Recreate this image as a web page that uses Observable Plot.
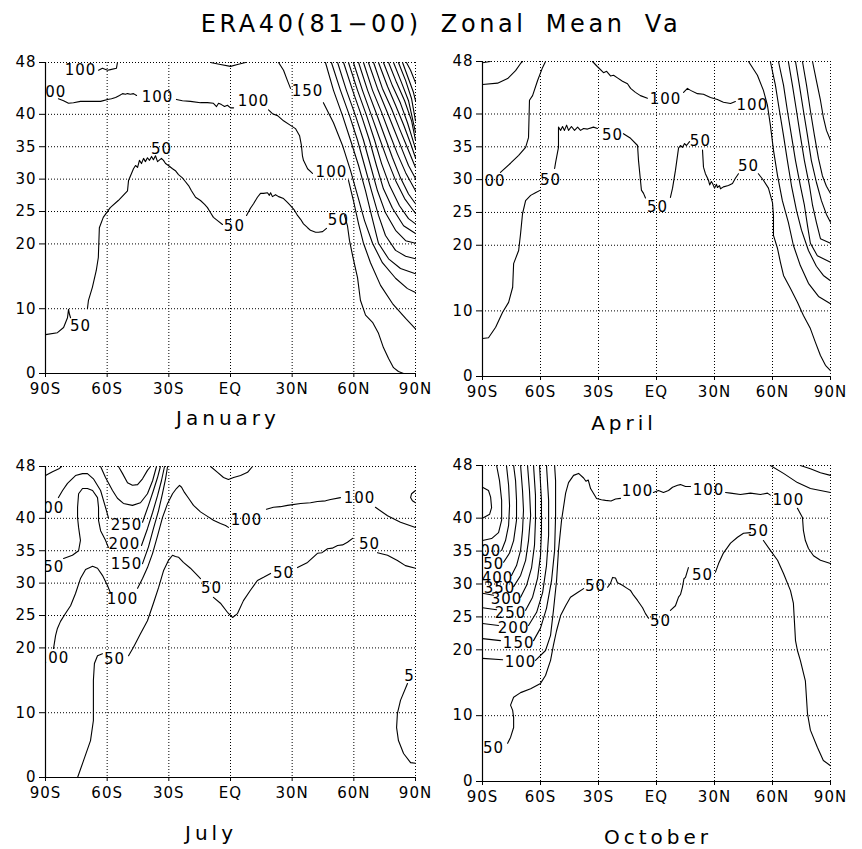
<!DOCTYPE html>
<html><head><meta charset="utf-8">
<script src="https://cdn.jsdelivr.net/npm/d3@7"></script>
<script src="https://cdn.jsdelivr.net/npm/@observablehq/plot@0.6"></script>
<style>
body{margin:0;background:#fff;}
#root{position:relative;width:862px;height:849px;font-family:"DejaVu Sans",sans-serif;color:#000;overflow:hidden;}
.t{position:absolute;white-space:nowrap;transform:translate(-50%,-50%);z-index:5;}
.panel{position:absolute;}
.panel svg{background:transparent;}
</style></head><body><div id="root"></div>
<script>
// ---- axes ----
const latTicks = [-90, -60, -30, 0, 30, 60, 90];
const latNames = ["90S", "60S", "30S", "EQ", "30N", "60N", "90N"];
const levelTicks = [0, 10, 20, 25, 30, 35, 40, 48];
const mainTitle = "ERA40(81\u221200) Zonal Mean Va";
const panelNames = ["January", "April", "July", "October"];

// ---- January contour polylines [lat, level] ----
const janLines = [
[[-90,6],[-84.2,6.3],[-81.2,7.1],[-79.3,8.6],[-78.8,9.9],[-78.3,9.1],[-77.8,8.6]],
[[-69.6,10],[-69.1,11.3],[-67.2,13.3],[-65.3,15.9],[-64.3,17.9],[-63.8,22.5],[-61.9,24.1],[-58.5,25.6],[-54.6,26.7],[-50.1,28.2],[-49.6,29.8],[-47.2,31.6],[-46.2,32.1],[-45.2,31.8],[-44.3,32.9],[-43.3,32.4],[-42.3,33.2],[-41.4,32.7],[-40.4,33.3],[-39.4,32.9],[-38.4,33.5],[-37.5,33],[-36.5,33.6],[-35.5,32.7],[-33.6,33.2],[-32.6,32.9],[-31.6,32.4],[-30.2,32.1],[-28.2,31.6],[-26.8,31.3],[-25.3,30.7],[-23.4,30.2],[-21.9,29.6],[-20.4,29],[-19,28.2],[-17,27.2],[-14.6,26.7],[-12.6,26.1],[-11.2,25.6],[-9.7,24.8],[-8.3,24.1],[-6.3,23.6],[-3.9,23]],
[[7.8,24.4],[9.7,25.5],[11.2,26.2],[13.1,27.2],[14.6,27.8],[16.1,27.8],[18,27.9],[18.9,27.5],[19.5,27.9],[20.4,27.3],[21.9,27.6],[23.4,27.3],[25.8,27],[27.7,26.4],[29.2,25.9],[31.1,25.2],[32.6,24.4],[34.1,23.8],[35.5,23.1],[37.5,22.5],[38.9,22.1],[41.4,21.8],[42.8,21.8],[44.8,21.9],[46.7,22.4]],
[[55.5,24.4],[56.9,22.8],[57.9,20.5],[59.4,18.2],[60.8,16.2],[61.8,14.8],[63.2,11.3],[65.7,9],[69.1,7.9],[72,6.2],[74.4,4],[76.9,2.3],[79.3,0.9],[81.7,0.3],[84.2,0]],
[[-83.7,42.4],[-81.2,42.1],[-78.8,41.7],[-76.4,41.8],[-73,42],[-69.6,42],[-63.2,42],[-59.8,42.3],[-57.9,42.4],[-55.9,42.6],[-54,42.9],[-52.5,43.2],[-51.1,43.1],[-50.1,43.2],[-48.7,43.1],[-47.2,43.2],[-45.7,42.9]],
[[-26.3,42.3],[-23.4,42.1],[-19.5,42],[-14.6,41.8],[-11.2,41.8],[-8.3,41.7],[-6.8,41.2],[-5.8,41.7],[-4.4,41.5],[-2.9,41.2],[-1.5,41.4],[0,41],[1.5,41]],
[[18.5,40.7],[20.4,40.1],[22.9,39.8],[25.8,39],[29.2,38.3],[31.6,37.8],[33.6,36.7],[34.5,35.2],[35,33.6],[35.5,32.9],[37.5,31.6],[39.9,30.9]],
[[57.4,29.8],[59.8,26.7],[62.3,23.1],[64.7,20.1],[68.1,17.1],[73,13.6],[78.8,10.8],[85.2,8.5],[90,6.9]],
[[-64.2,46.8],[-62.3,47.1],[-59.8,46.8],[-58.4,46.9],[-55.5,47.1],[-55,48]],
[[-9.7,48],[-4.9,47.7],[0,47.4],[3.4,47.7],[7.3,48]],
[[23.4,48],[25.8,46.8],[27.7,45.2],[29.2,44]],
[[45.2,41.8],[50.1,38.7],[54.5,35.2],[58.4,31.3],[61.8,27.5],[65.2,23.6],[69.1,20.1],[73.9,17.1],[80.3,14.7],[86.1,13.1],[90,12.5]],
[[46.2,48],[50.1,43.7],[54.5,39.8],[58.4,36],[62.3,32.1],[65.7,28.2],[68.6,24.4],[72,20.1],[76.9,17.7],[82.7,16.2],[90,15.4]],
[[49.1,48],[53.5,43.7],[57.9,39.8],[61.8,36],[65.2,32.1],[68.6,28.2],[72,24.4],[75.4,21.3],[80.3,19],[85.2,18.1],[90,17.7]],
[[52.1,48],[56.4,43.7],[60.8,39.8],[64.7,36],[68.1,32.1],[71.5,28.2],[75.4,24.8],[80.3,22.1],[85.2,20.5],[90,20.1]],
[[55,48],[59.4,43.7],[63.7,39.8],[67.6,36],[71,32.1],[74.4,28.5],[78.8,25.5],[84.2,22.8],[90,21.6]],
[[57.4,48],[61.8,43.7],[66.2,39.8],[70.1,36],[73.5,32.4],[77.4,29],[82.2,25.9],[86.6,23.9],[90,23.1]],
[[59.8,48],[64.2,43.7],[68.6,39.8],[72.5,36.3],[76.4,32.9],[80.3,29.8],[84.7,27],[90,24.7]],
[[62.3,48],[66.7,43.7],[71,40.1],[74.9,36.7],[78.8,33.3],[82.7,30.2],[86.6,27.7],[90,26.2]],
[[64.7,48],[69.1,43.7],[73.5,40.3],[77.4,37],[81.2,33.9],[85.2,31],[90,28.2]],
[[67.1,48],[71.5,44],[75.9,40.6],[79.8,37.5],[83.7,34.4],[86.6,32.1],[90,30.1]],
[[69.6,48],[73.9,44],[78.3,40.9],[82.2,37.8],[85.6,35.2],[90,31.8]],
[[72,48],[76.4,44.3],[80.3,41.4],[84.2,38.4],[87.6,35.5],[90,33.3]],
[[74.4,48],[78.8,44.4],[82.7,41.7],[86.1,38.7],[90,34.7]],
[[76.9,48],[80.8,44.9],[84.7,42.1],[88.1,39],[90,36]],
[[79.3,48],[83.2,44.9],[86.6,42.1],[90,37.2]],
[[81.7,48],[85.2,45.2],[88.1,42.4],[90,39]],
[[83.7,48],[86.6,45.5],[89,43.4],[90,42.1]],
[[85.6,48],[87.6,46.8],[90,44.9]]
];
const janLabels = [
{lat:-73,lev:7.3,t:"50"},{lat:-33.6,lev:34.6,t:"50"},{lat:1.9,lev:22.8,t:"50"},{lat:52.5,lev:23.6,t:"50"},
{lat:-87.6,lev:43.4,t:"100"},{lat:-35.5,lev:42.7,t:"100"},{lat:11.2,lev:42,t:"100"},{lat:49.1,lev:31,t:"100"},
{lat:-73,lev:46.8,t:"100"},{lat:37.5,lev:43.5,t:"150"}
];

// ---- April ----
const aprLines = [
[[-90,47.8],[-86,48]],
[[-90,44.5],[-82.2,44.7],[-77,45.4],[-72.9,46.6],[-70.3,47.7],[-69.3,48]],
[[-80.7,31.1],[-75.5,32.5],[-71.3,33.7],[-67.7,34.9],[-66.2,36.4],[-65.7,42.1],[-64.1,42.8],[-61.5,45.1],[-58.9,47.1],[-57.4,48]],
[[-90,5.8],[-86.9,5.9],[-83.2,7.5],[-79.6,9.8],[-76.5,11.3],[-74.4,13.6],[-73.9,17.2],[-71.3,19.2],[-70.3,21.8],[-69.3,24.8],[-67.7,26.8],[-65.1,27.6],[-62.6,28],[-60,28.4]],
[[-52.7,31.7],[-52.2,32.6],[-50.7,34.9],[-50.7,38],[-49.6,37.5],[-48.6,38.1],[-47.6,37.5],[-46.5,38.3],[-45.5,37.5],[-44,38.1],[-42.4,37.5],[-40.8,38],[-39.3,37.5],[-37.7,37.8],[-35.7,37.7],[-32.6,38],[-30.5,37.8]],
[[-17.1,37],[-13.4,36.3],[-9.8,35.2],[-9.3,32.9],[-8.3,29.9],[-7.8,28.4],[-6.7,27.9],[-5.7,27.2]],
[[7.2,27.3],[8.3,28.7],[9.8,31.4],[11.4,34.8],[12.4,35.2],[13.4,34.9],[14.5,35.5],[15.5,35.2],[17.1,35.8]],
[[23.8,34.5],[24.3,31.9],[25.3,30.9],[26.9,29.9],[27.5,29.2],[28.4,29.7],[29,29.4],[30,28.7],[31,29.3],[31.5,28.8],[32.6,29.1],[33.1,28.6],[34.6,28.9],[37.2,29.1],[39.3,29.4],[40.8,30.2],[42.4,30.9]],
[[52.7,30.9],[55.3,29.9],[57.9,28.7],[60,26.5],[60.5,24.5],[60.5,21.5],[62.6,19.5],[64.1,17.4],[65.7,15.4],[69.3,13.4],[72.9,11.3],[76,9.3],[79.6,7.3],[82.2,5.2],[84.8,3.2],[87.4,1.7],[90,0.9]],
[[-33.1,48],[-30.5,47.2],[-27.4,46.3],[-25.8,46.5],[-23.8,45.8],[-22.2,45.9],[-20.2,45.5],[-17.6,45],[-15,44.6],[-13.4,43.9],[-10.9,43.3],[-8.3,42.8],[-4.7,42.4]],
[[14,43.3],[16,43.9],[17.6,43.6],[21.2,43.1],[24.3,43],[27.9,42.5],[31.5,42.2],[34.6,41.8],[38.3,41.6],[40.8,41.9]],
[[47.6,48],[52.2,45.9],[55.3,43.6],[57.4,41.3],[58.9,38.3],[60.5,34.5],[62.6,30.6],[65.1,26.8],[68.2,23.5],[70.8,20],[74.4,16.9],[78.6,14.2],[83.8,12.2],[90,11.1]],
[[58.9,48],[61.5,44.4],[63.6,40.5],[65.7,36.7],[67.7,32.9],[69.8,29.1],[72.4,25.3],[75,22.3],[78.6,19.2],[82.7,16.8],[86.3,15.4],[90,14.6]],
[[63.1,48],[65.7,44.4],[67.7,40.5],[69.8,36.7],[71.9,32.9],[74.4,29.1],[76.5,26.1],[78.1,23],[79.6,20.3],[83.2,18.4],[90,17.4]],
[[68.2,48],[70.3,44.4],[72.4,40.5],[74.4,36.7],[76.5,32.9],[79.1,29.1],[80.7,26.1],[82.7,23.5],[84.8,21],[90,20.3]],
[[71.9,48],[73.9,44.4],[76,40.5],[78.1,36.7],[80.1,32.9],[82.7,29.6],[85.3,26.8],[87.9,24.7],[90,23.5]],
[[75.5,48],[77.6,44.4],[79.6,40.5],[81.7,36.7],[83.8,33.2],[85.8,30.6],[87.9,29],[90,27.9]],
[[80.7,48],[82.7,45.1],[84.8,42.1],[86.3,39.5],[87.9,37.5],[90,36]]
];
const aprLabels = [
{lat:-86.3,lev:29.7,t:"100"},{lat:-54.8,lev:29.9,t:"50"},{lat:-22.7,lev:36.7,t:"50"},{lat:0.5,lev:25.8,t:"50"},
{lat:22.7,lev:35.8,t:"50"},{lat:47.6,lev:32,t:"50"},{lat:4.7,lev:42.2,t:"100"},{lat:49.6,lev:41.3,t:"100"}
];

// ---- July ----
const julLines = [
[[-90,46.6],[-86.6,47.2],[-83.2,47.7],[-82.2,48]],
[[-83.7,43.2],[-81.7,44.3],[-79.3,45.4],[-75.4,46.6],[-72,46.9],[-69.6,46.9],[-66.7,46.1],[-63.2,44.3],[-60.8,41.7],[-59.4,40.1]],
[[-42.8,39.4],[-39.9,42],[-37.5,44.3],[-35.5,46.3],[-34.1,48]],
[[-81.2,33.8],[-76.9,34.3],[-73.9,35],[-73,36.6],[-73.9,38.6],[-74.4,40.1],[-74.4,41.7],[-73.9,43.8],[-72,44.6],[-69.6,44.6],[-67.1,44.3],[-64.7,43.2],[-64.2,41.7],[-64.2,39.7],[-63.2,38.1],[-60.8,36.6],[-59.4,35.5]],
[[-43.3,35.8],[-40.4,38.4],[-37.9,40.9],[-35.5,43.5],[-33.6,45.8],[-32.1,48]],
[[-42.8,33],[-39.9,35.6],[-37.5,38.4],[-35,41.2],[-33.1,43.8],[-31.6,46.1],[-30.6,48]],
[[-54.5,48],[-52.5,46.9],[-50.1,45.5],[-47.7,45.1],[-45.2,45.2],[-42.8,46.1],[-40.4,47.4],[-38.9,48]],
[[-63.2,48],[-60.8,46.3],[-57.4,44.3],[-55,43.1],[-52.1,42.3],[-47.7,42],[-43.8,42.4],[-40.4,43.8],[-37.9,45.8],[-36,48]],
[[-86.1,19.9],[-85.1,21.9],[-84.2,23],[-82.7,24.1],[-80.3,25.3],[-77.8,26.5],[-75.4,28.4],[-73,30.7],[-70.5,32.1],[-67.1,32.6],[-64.7,32.3],[-62.3,31.2],[-59.8,29.6],[-58.4,28.5]],
[[-45.2,29.2],[-42.8,30.7],[-40.4,32.4],[-37.9,34.6],[-35.5,37.3],[-33.1,40.1],[-30.6,42.3],[-28.2,43.8],[-26.3,44.6],[-24.8,45.1],[-23.8,44.8],[-22.4,44],[-20.4,43.1],[-18,42],[-14.6,41],[-11.2,40.3],[-8.3,39.7],[-4.9,39.2],[-2.4,38.9],[-1,38.6]],
[[17.5,41.4],[20.9,41.7],[24.3,41.8],[27.7,42],[34.1,42.3],[38.9,42.4],[42.3,42.6],[46.2,42.7],[48.7,42.9],[53.5,43.2]],
[[70.5,41.7],[76.4,40.4],[82.7,39.4],[90,38.6]],
[[-9.7,48],[-6.3,47.1],[-3.4,46.3],[-1,46],[1.5,46.3],[4.9,46.6],[8.3,47.1],[10.7,48]],
[[-74.4,0],[-71.5,2.6],[-68.1,5.7],[-66.7,8.8],[-66.7,12.3],[-66.7,15],[-66.2,17.6],[-64.7,18.8],[-62.3,19.1]],
[[-49.6,18.8],[-47.2,20.1],[-43.8,22.2],[-40.4,24.2],[-37.5,26.9],[-35,29.3],[-32.6,31.9],[-30.2,33.5],[-28.2,34.3],[-26.8,34.1],[-25.3,34],[-22.9,33.2],[-19.5,32.3],[-16.1,31.2],[-14.6,30.7]],
[[-8.3,27.8],[-4.9,26.9],[-1.5,25.5],[1,24.7],[3.4,25.3],[6.3,27.3],[9.7,28.9],[13.1,30.4],[16.1,30.9],[19.5,31.5]],
[[32.6,32.4],[37.5,33.2],[42.3,34.6],[44.5,34.7],[47.2,35.3],[49.5,35.4],[52.1,35.8],[54.5,35.9],[56.9,36.3],[59.4,36.9]],
[[71.5,34.7],[76.4,34.3],[81.2,33.5],[85.1,32.7],[90,32.3]],
[[90,44.3],[88.1,43.8],[87.6,43.2],[88.5,42.7],[90,42.4]],
[[86.1,14.5],[82.7,11.9],[81.2,9.9],[80.8,7.7],[81.7,5.7],[84.2,3.7],[87.6,2.3],[90,2.2]]
];
const julLabels = [
{lat:-88.5,lev:41.5,t:"300"},{lat:-88.5,lev:32.4,t:"150"},{lat:-86.1,lev:18.4,t:"100"},
{lat:-50.6,lev:39,t:"250"},{lat:-51.6,lev:36,t:"200"},{lat:-50.6,lev:32.9,t:"150"},{lat:-52.5,lev:27.5,t:"100"},
{lat:7.8,lev:39.7,t:"100"},{lat:62.8,lev:43.1,t:"100"},
{lat:-56.4,lev:18.3,t:"50"},{lat:-9.2,lev:29.2,t:"50"},{lat:25.8,lev:31.5,t:"50"},{lat:67.6,lev:36,t:"50"},{lat:89.6,lev:15.7,t:"50"}
];

// ---- October ----
const octLines = [
[[58.9,48],[65.7,46.8],[72.9,45.4],[79.6,44.5],[84.8,44.2],[90,43.9]],
[[74.4,48],[79.6,47.5],[84.8,46.9],[90,46.5]],
[[-90,44.7],[-86.9,44.2],[-85.8,43.2],[-85.3,41.6],[-86.3,40.6],[-90,40]],
[[-90,36.6],[-85.3,36.9],[-81.7,37.8],[-80.1,39.7],[-80.1,42.7],[-81.2,45.7],[-82.7,48]],
[[-80.1,35.1],[-78.1,36.6],[-76.5,38.9],[-76,41.9],[-76.5,45],[-77.6,48]],
[[-79.1,33.3],[-76,34.7],[-73.9,36.6],[-72.4,39.7],[-72.4,42.7],[-72.9,45.7],[-73.9,48]],
[[-75,31.3],[-72.4,32.8],[-70.3,35.1],[-69.3,38.1],[-68.8,41.2],[-69.3,44.2],[-70.3,48]],
[[-73.9,29.6],[-70.3,31.3],[-67.7,33.6],[-66.2,36.6],[-65.1,40.4],[-65.7,44.2],[-66.7,48]],
[[-90,28.6],[-84.3,28.3]],
[[-70.3,28],[-67.2,29.8],[-64.6,32.5],[-63.1,35.9],[-62.6,39.7],[-62.6,43.5],[-63.6,48]],
[[-90,26.4],[-82.7,26.1]],
[[-67.7,26],[-64.1,28],[-61.5,30.9],[-60,34.3],[-59.5,38.1],[-59.5,42.7],[-60.5,48]],
[[-90,24],[-81.7,23.7]],
[[-66.2,23.7],[-62,25.7],[-58.9,28.7],[-56.9,32.8],[-55.8,37.4],[-55.8,42.7],[-56.9,48]],
[[-90,21.7],[-80.7,21.4]],
[[-63.6,21.4],[-60,23.3],[-56.9,26.3],[-54.3,30.5],[-52.7,35.1],[-52.2,40.4],[-52.2,45.7],[-52.7,48]],
[[-90,18.7],[-79.6,18.5]],
[[-62.6,18.4],[-57.4,19.9],[-54.8,22.2],[-53.3,26],[-51.7,30.5],[-50.7,35.1],[-49.1,39.7],[-47,43.8],[-45.5,45.4],[-42.9,46.5],[-40.3,46.8],[-37.7,46.1],[-36.5,45.6],[-35.3,45.8],[-34.1,44.5],[-31,43],[-28.5,42.8],[-26.4,42.7],[-23.5,42.6],[-21.2,42.9],[-18.6,43]],
[[-1.6,43.9],[1,44.2],[3.6,43.9],[6.2,44.2],[8.3,44.7],[10.9,45],[12.4,45.1],[15,44.8],[17.6,44.8]],
[[35.7,43.9],[38.3,43.8],[43.4,43.6],[48.6,43.8],[53.8,43.6],[57.4,43.8],[58.9,43.5]],
[[72.9,41.5],[75.5,40.1],[76,38.1],[77,36.6],[78.6,35.4],[81.2,34.3],[84.8,33.6],[90,33.1]],
[[-77,5.8],[-75.5,6.7],[-73.9,8.2],[-73.9,9.7],[-74.4,10.8],[-75.5,11.6],[-73.9,12.8],[-70.3,13.5],[-65.1,14.1],[-60,14.9],[-57.4,16.1],[-54.8,18.4],[-53.3,20.7],[-51.7,22.9],[-49.6,25.2],[-47,26.7],[-44.5,28],[-40.8,28.7],[-37.7,29.3]],
[[-25.3,29.5],[-23.8,30.1],[-22.7,31],[-21.2,30.9],[-20.2,30.2],[-17.6,29.8],[-15,29.3],[-13.4,29],[-11.9,28.3],[-9.8,27.5],[-7.2,26.4],[-5.7,25.5],[-4.1,24.8]],
[[7.2,26],[9.8,26.7],[11.4,28],[12.4,28.4],[13.4,29.5],[14.2,30.8],[15,31],[16.5,32.5]],
[[30.5,31.8],[32.1,33.1],[34.6,34.7],[38.3,36.2],[41.9,37.1],[45,37.7],[48.6,37.8]],
[[55.3,36.6],[58.9,35.1],[62.6,33.6],[65.7,31.6],[69.3,29],[70.8,27.1],[71.9,21.4],[72.9,19.9],[74.4,18.4],[77,15.3],[78.1,10.3],[79.6,7.8],[83.2,5.2],[86.3,3.2],[90,2.4]]
];
const octLabels = [
{lat:-88.4,lev:35,t:"500"},{lat:-86.9,lev:33,t:"450"},{lat:-82.2,lev:30.9,t:"400"},{lat:-81.2,lev:29.3,t:"350"},
{lat:-77.6,lev:27.7,t:"300"},{lat:-75.5,lev:25.5,t:"250"},{lat:-73.9,lev:23.3,t:"200"},{lat:-71.3,lev:21,t:"150"},
{lat:-70.3,lev:18.1,t:"100"},{lat:-84.3,lev:5,t:"50"},{lat:-31.5,lev:29.6,t:"50"},{lat:2.1,lev:24.3,t:"50"},
{lat:23.8,lev:31.3,t:"50"},{lat:52.7,lev:38,t:"50"},{lat:-9.8,lev:44.1,t:"100"},{lat:26.9,lev:44.2,t:"100"},{lat:68.2,lev:42.7,t:"100"}
];

// ---- drawing ----
function panel(lines, labels, g) {
  const rows = lines.flatMap((pts, i) => pts.map(([lat, lev]) => ({lat, lev, k: i})));
  return Plot.plot({
    width: g.w, height: 400,
    marginLeft: g.ml, marginRight: g.mr, marginTop: g.mt, marginBottom: g.mb,
    style: {fontFamily: "DejaVu Sans", fontSize: "15px", background: "transparent", overflow: "visible", letterSpacing: "1px"},
    x: {domain: [-90, 90], ticks: latTicks, tickFormat: d => latNames[latTicks.indexOf(d)], tickSize: 4, tickPadding: 6, label: null},
    y: {domain: [0, 48], ticks: levelTicks, tickSize: 6, tickPadding: 3, label: null},
    marks: [
      Plot.ruleX(latTicks.slice(1), {stroke: "black", strokeWidth: 1, strokeDasharray: "1,2"}),
      Plot.ruleY(levelTicks.slice(1), {stroke: "black", strokeWidth: 1, strokeDasharray: "1,2"}),
      Plot.line(rows, {x: "lat", y: "lev", z: "k", stroke: "black", strokeWidth: 1.1}),
      Plot.text(labels, {x: "lat", y: "lev", text: "t", fill: "black", fontSize: 15, clip: true}),
      Plot.ruleX([-90], {stroke: "black", strokeWidth: 1.2}),
      Plot.ruleY([0], {stroke: "black", strokeWidth: 1.2})
    ]
  });
}

const root = document.getElementById("root");
const geoms = [
  {lines: janLines, labels: janLabels, left: 0,   top: 40,  w: 430, ml: 45, mr: 15, mt: 22, mb: 67},
  {lines: aprLines, labels: aprLabels, left: 431, top: 40,  w: 431, ml: 51, mr: 32, mt: 21, mb: 64},
  {lines: julLines, labels: julLabels, left: 0,   top: 440, w: 430, ml: 45, mr: 15, mt: 26, mb: 63},
  {lines: octLines, labels: octLabels, left: 431, top: 440, w: 431, ml: 51, mr: 32, mt: 25, mb: 59}
];
for (const g of geoms) {
  const div = document.createElement("div");
  div.className = "panel";
  div.style.left = g.left + "px"; div.style.top = g.top + "px";
  div.appendChild(panel(g.lines, g.labels, g));
  root.appendChild(div);
}
function addText(txt, x, y, css) {
  const d = document.createElement("div");
  d.className = "t"; d.textContent = txt;
  d.style.left = x + "px"; d.style.top = y + "px";
  Object.assign(d.style, css);
  root.appendChild(d);
}
addText(mainTitle, 441, 24, {fontSize: "24px", letterSpacing: "3.6px", wordSpacing: "8px"});
const namePos = [[228, 418], [624, 423], [211, 833], [658, 837]];
panelNames.forEach((n, i) => addText(n, namePos[i][0], namePos[i][1], {fontSize: "20px", letterSpacing: "4px"}));
</script></body></html>
